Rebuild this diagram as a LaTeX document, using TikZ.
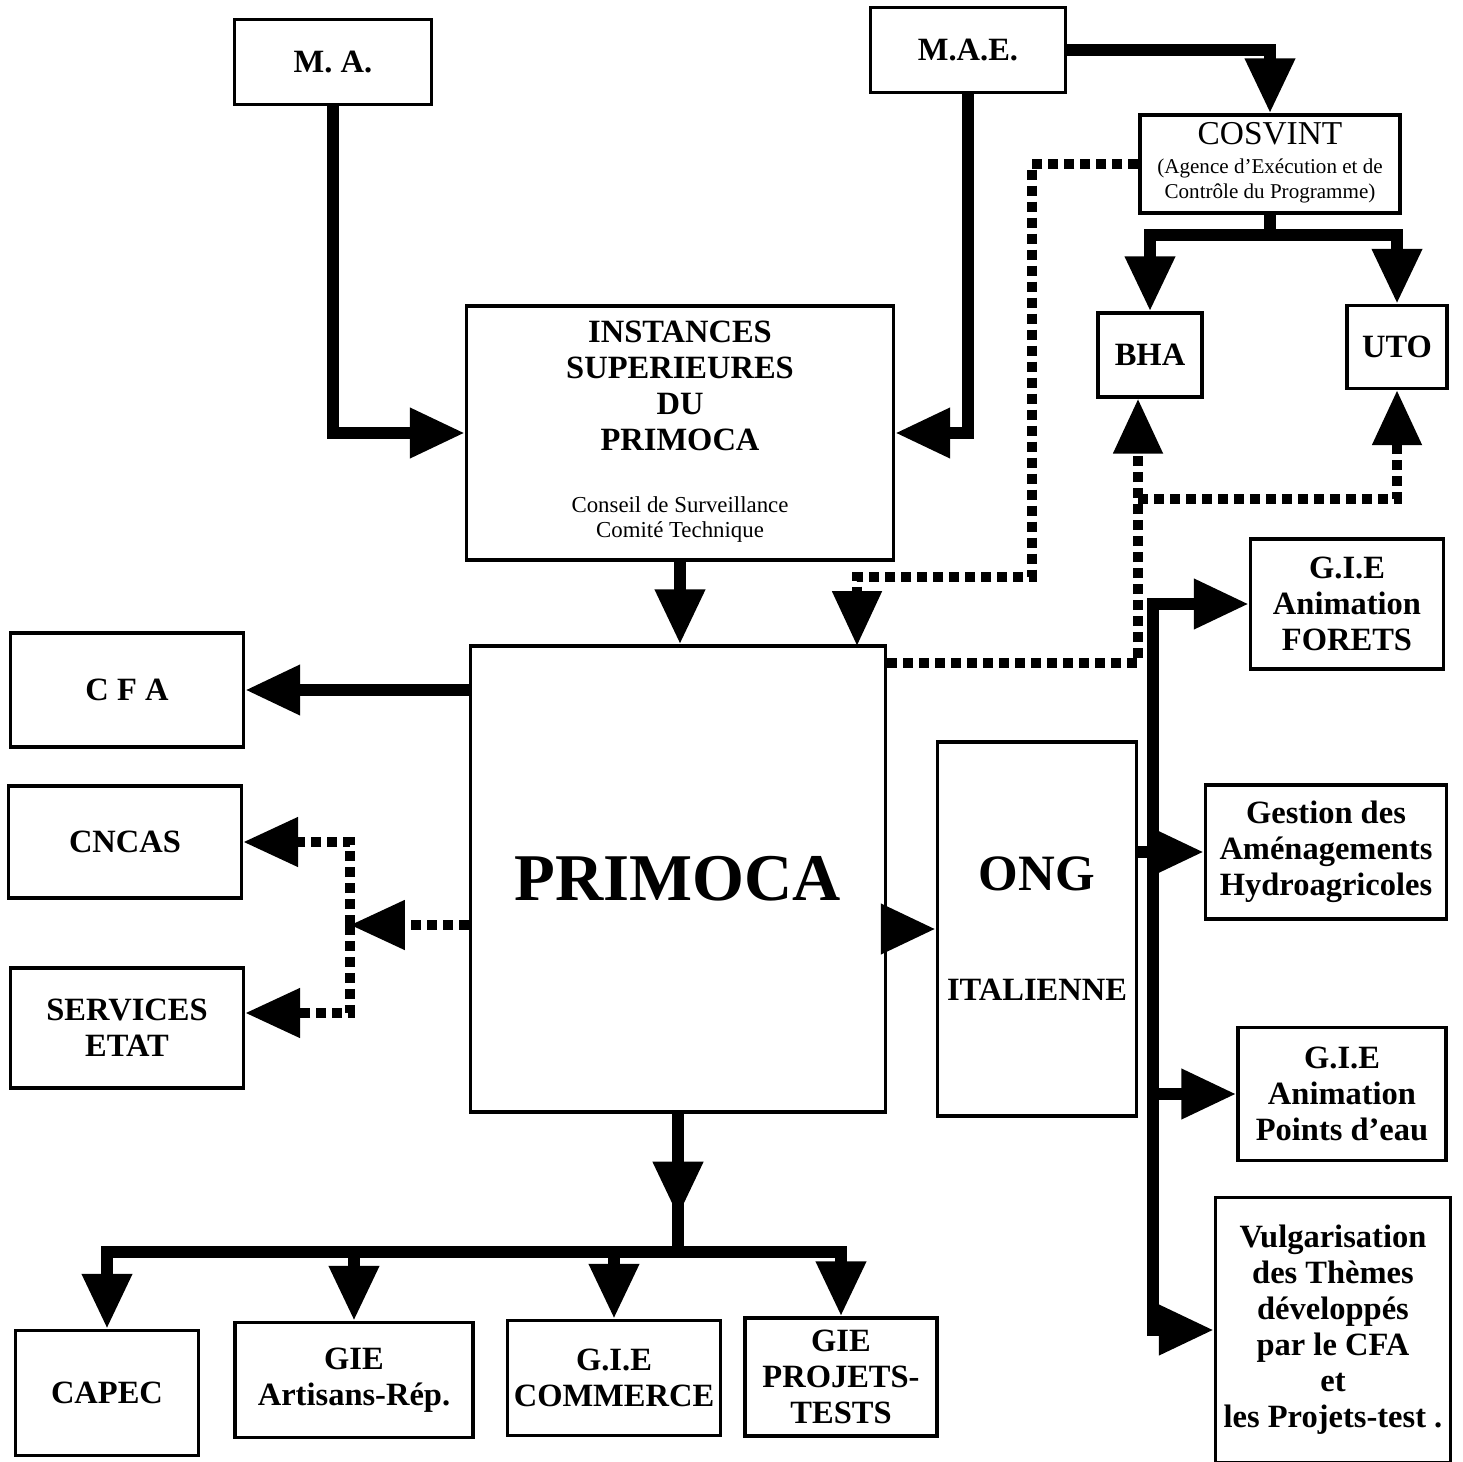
\documentclass[tikz,border=0pt]{standalone}
\usepackage{fontspec}
\setmainfont{Liberation Serif}
\usetikzlibrary{arrows.meta}
\newcommand{\labfont}{\fontsize{18.5}{20.5}\selectfont\bfseries}
\newcommand{\notefont}{\fontsize{13}{14}\selectfont\mdseries}
\newcommand{\titlefont}{\fontsize{38}{40}\selectfont\bfseries}
\tikzset{org/.style={draw, line width=0.07cm, inner sep=0pt, align=center, font=\labfont}}
\tikzset{link/.style={line width=0.24cm, -{Triangle[length=1.1cm, width=0.95cm]}}}
\tikzset{plain/.style={line width=0.24cm}}
\tikzset{dots/.style={line width=0.2cm, dash pattern=on 0.2cm off 0.12cm, -{Triangle[length=1.1cm, width=0.95cm]}}}

\begin{document}
\begin{tikzpicture}[x=0.02cm, y=-0.02cm]
    \useasboundingbox (0,0) rectangle (1463,1462);

    \node[org, minimum width=3.94cm, minimum height=1.7cm] (ma) at (333,62) {M. A.};
    \node[org, minimum width=3.9cm, minimum height=1.7cm] (mae) at (968,50) {M.A.E.};
    \node[org, minimum width=5.2cm, minimum height=1.96cm, font=\notefont] (cosv) at (1270,164) {{\fontsize{19}{20}\selectfont COSVINT}\\[3pt]\begin{tabular}[t]{@{}c@{}}\fontsize{12}{13}\selectfont(Agence d'Exécution et de\\\fontsize{12}{13}\selectfont Contrôle du Programme)\end{tabular}};
    \node[org, minimum width=2.08cm, minimum height=1.68cm] (bha) at (1150,355) {BHA};
    \node[org, minimum width=2.0cm, minimum height=1.66cm] (uto) at (1397,347) {UTO};
    \node[org, minimum width=8.54cm, minimum height=5.08cm] (inst) at (680,433) {INSTANCES\\SUPERIEURES\\DU\\PRIMOCA\\[15pt]{\notefont\begin{tabular}[t]{@{}c@{}}Conseil de Surveillance\\Comité Technique\end{tabular}}};
    \node[org, minimum width=8.3cm, minimum height=9.32cm, font=\titlefont] (pri) at (678,879) {PRIMOCA};
    \node[org, minimum width=4.66cm, minimum height=2.28cm] (cfa) at (127,690) {C F A};
    \node[org, minimum width=4.66cm, minimum height=2.24cm] (cncas) at (125,842) {CNCAS};
    \node[org, minimum width=4.66cm, minimum height=2.4cm] (serv) at (127,1028) {SERVICES\\ETAT};
    \node[org, minimum width=3.98cm, minimum height=7.48cm] (ong) at (1037,929) {{\fontsize{29}{30}\selectfont ONG}\\[42pt]ITALIENNE};
    \node[org, minimum width=3.86cm, minimum height=2.6cm] (foret) at (1347,604) {G.I.E\\Animation\\FORETS};
    \node[org, minimum width=4.82cm, minimum height=2.68cm] (gest) at (1326,852) {Gestion des\\Aménagements\\Hydroagricoles};
    \node[org, minimum width=4.16cm, minimum height=2.66cm] (point) at (1342,1094) {G.I.E\\Animation\\Points d'eau};
    \node[org, minimum width=4.7cm, minimum height=5.3cm] (vulg) at (1333,1330) {Vulgarisation\\des Thèmes\\développés\\par le CFA\\et\\les Projets-test .};
    \node[org, minimum width=3.66cm, minimum height=2.5cm] (capec) at (107,1393) {CAPEC};
    \node[org, minimum width=4.76cm, minimum height=2.3cm] (artis) at (354,1380) {GIE\\Artisans-Rép.};
    \node[org, minimum width=4.26cm, minimum height=2.3cm] (comm) at (614,1378) {G.I.E\\COMMERCE};
    \node[org, minimum width=3.84cm, minimum height=2.36cm] (proj) at (841,1377) {GIE\\PROJETS-\\TESTS};

    \coordinate (cb) at ([yshift=-0.4cm]cosv.south);
    \coordinate (dc) at (1032,577);
    \coordinate (dt) at (857,646);
    \coordinate (dp) at ([yshift=-0.38cm]pri.north east);
    \coordinate (db) at ([xshift=-0.24cm]bha.south);
    \coordinate (dj) at ([yshift=-2cm]db);
    \coordinate (dl) at (350,925);
    \coordinate (bt) at ([yshift=-2.06cm]pri.south);
    \coordinate (bb) at ([yshift=-2.76cm]pri.south);
    \coordinate (rb) at (1153,852);

    \draw[link] (ma.south) |- (inst.west);
    \draw[link] (mae.south) |- (inst.east);
    \draw[link] (mae.east) -| (cosv.north);
    \draw[link] (cosv.south) -- (cb) -| (bha.north);
    \draw[link] (cb) -| (uto.north);
    \draw[link] (inst.south) -- (inst.south |- pri.north);
    \draw[dots] (cosv.west) -| (dc) -| (dt);
    \draw[dots] (dp) -| (db);
    \draw[dots] (dj) -| (uto.south);
    \draw[link] (pri.west |- cfa.east) -- (cfa.east);
    \draw[dots] (pri.west |- dl) -- (dl);
    \draw[dots] (dl) |- (cncas.east);
    \draw[dots] (dl) |- ([yshift=0.3cm]serv.east);
    \draw[link] (pri.east |- ong.west) -- (ong.west);
    \draw[link] (pri.south) -- (bt);
    \draw[plain] ([yshift=0.4cm]bt) -- (bb);
    \draw[link] (bb) -| (capec.north);
    \draw[link] (bb) -| (artis.north);
    \draw[link] (bb) -| (comm.north);
    \draw[link] (bb) -| (proj.north);
    \draw[link] (ong.east |- gest.west) -- (gest.west);
    \draw[link] (rb) |- (foret.west);
    \draw[link] (rb) |- (point.west);
    \draw[link] (rb) |- (vulg.west);
\end{tikzpicture}
\end{document}
